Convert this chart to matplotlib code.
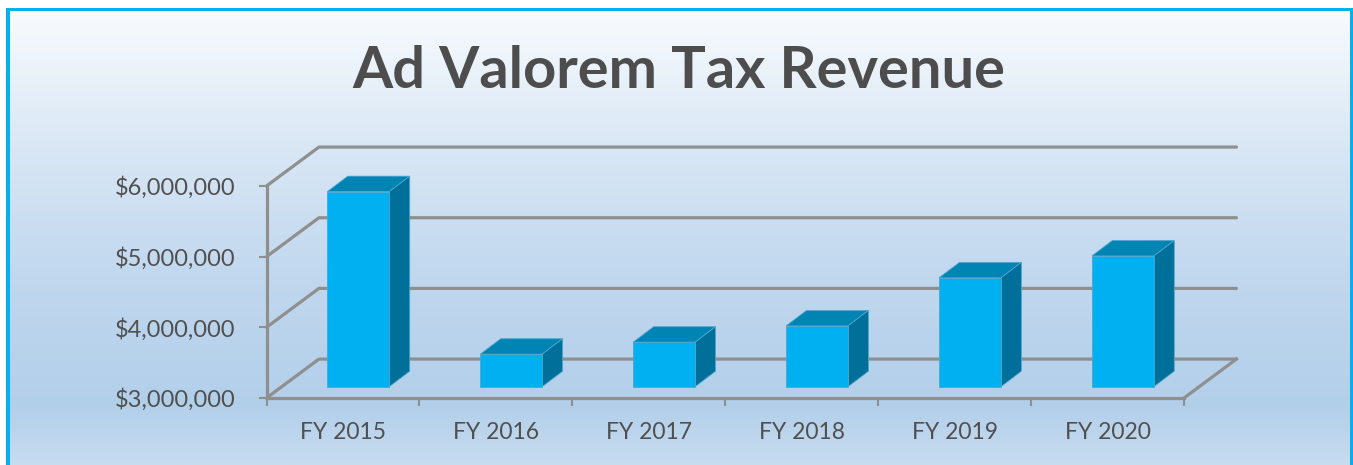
import numpy as np
import matplotlib
matplotlib.use("Agg")
import matplotlib.pyplot as plt
from matplotlib.colors import LinearSegmentedColormap
from matplotlib.patches import Rectangle

# Data
years = ["FY 2015", "FY 2016", "FY 2017", "FY 2018", "FY 2019", "FY 2020"]
revenue = [5760000, 3460000, 3630000, 3860000, 4540000, 4850000]
y_ticks = [3000000, 4000000, 5000000, 6000000]

W, H = 1353, 465
plt.rcParams["font.family"] = ["Lato", "DejaVu Sans"]

fig = plt.figure(figsize=(W / 100, H / 100), dpi=100, facecolor="white")

# Background gradient and the blue frame
bg = fig.add_axes([0, 0, 1, 1], zorder=0)
stops = [(0.0, "#f8fbfe"), (0.3, "#d9e7f5"), (0.6, "#c0d7ee"), (0.87, "#b2cfea"), (1.0, "#c8dcf0")]
cmap = LinearSegmentedColormap.from_list("panel", stops)
bg.imshow(np.linspace(0, 1, 256).reshape(-1, 1), cmap=cmap, aspect="auto", extent=(10, 1350, H, 11), zorder=1)
bg.set_xlim(0, W)
bg.set_ylim(H, 0)
bg.axis("off")
bg.add_patch(Rectangle((6, 8), 4, H - 8, color="#00b0f0", zorder=2, lw=0))
bg.add_patch(Rectangle((6, 8), W - 6, 3, color="#00b0f0", zorder=2, lw=0))
bg.add_patch(Rectangle((1350, 8), 3, H - 8, color="#00b0f0", zorder=2, lw=0))

fig.text(679 / W, 1 - 71 / H, "Ad Valorem Tax Revenue", ha="center", va="center",
         fontsize=41.7, fontweight="bold", color="#4d4d4d")

# Axes sits on the front plane of the fake 3D box
ax = fig.add_axes([266.5 / W, (H - 398) / H, 917.5 / W, 212 / H], zorder=1)
ax.patch.set_visible(False)
ax.set_xlim(0, len(years))
ax.set_ylim(y_ticks[0], y_ticks[-1])

grid_c = "#8f8f8f"
lw = 2.3
depth_x = 0.343
depth_y = 551000

# walls: diagonal plus back line for each tick
for t in y_ticks:
    ax.plot([0, depth_x, len(years) + depth_x], [t, t + depth_y, t + depth_y],
            color=grid_c, lw=lw, clip_on=False, zorder=1, solid_capstyle="round")
ax.plot([len(years), len(years) + depth_x], [y_ticks[0], y_ticks[0] + depth_y],
        color=grid_c, lw=lw, clip_on=False, zorder=1)

# bars: front face with ax.bar, top and side from polygons
bar_w = 0.405
bar_dx = 0.10
bar_dy = 160000
deep_x = 0.134
deep_y = 219000
x = np.arange(len(years)) + 0.5 + bar_dx
base = y_ticks[0] + bar_dy
heights = [v - y_ticks[0] for v in revenue]
edge = "#4fa6cc"
ax.bar(x, heights, bar_w, bottom=base, color="#00b0f0", edgecolor=edge, linewidth=0.6,
       zorder=4, clip_on=False)
for xi, h in zip(x, heights):
    l, r = xi - bar_w / 2, xi + bar_w / 2
    top = base + h
    ax.fill([l, r, r + deep_x, l + deep_x], [top, top, top + deep_y, top + deep_y],
            color="#0084b4", ec=edge, lw=0.6, zorder=3, clip_on=False)
    ax.fill([r, r + deep_x, r + deep_x, r], [base, base + deep_y, top + deep_y, top],
            color="#006f9a", ec=edge, lw=0.6, zorder=3, clip_on=False)

# axis lines and ticks
for s in ["top", "right"]:
    ax.spines[s].set_visible(False)
for s in ["left", "bottom"]:
    ax.spines[s].set_color(grid_c)
    ax.spines[s].set_linewidth(lw)
    ax.spines[s].set_zorder(2)

ax.set_yticks(y_ticks)
ax.set_yticklabels(["${:,}".format(t) for t in y_ticks])
ax.tick_params(axis="y", length=6, width=1.5, color=grid_c, labelsize=17, labelcolor="#505050", pad=16.5)
ax.set_xticks(np.arange(len(years) + 1))
ax.set_xticklabels([])
ax.tick_params(axis="x", which="major", length=6, width=1.5, color=grid_c)
ax.set_xticks(np.arange(len(years)) + 0.5, minor=True)
ax.set_xticklabels(years, minor=True)
ax.tick_params(axis="x", which="minor", length=0, labelsize=16.5, labelcolor="#505050", pad=17)

fig.savefig("out.png", dpi=100)
